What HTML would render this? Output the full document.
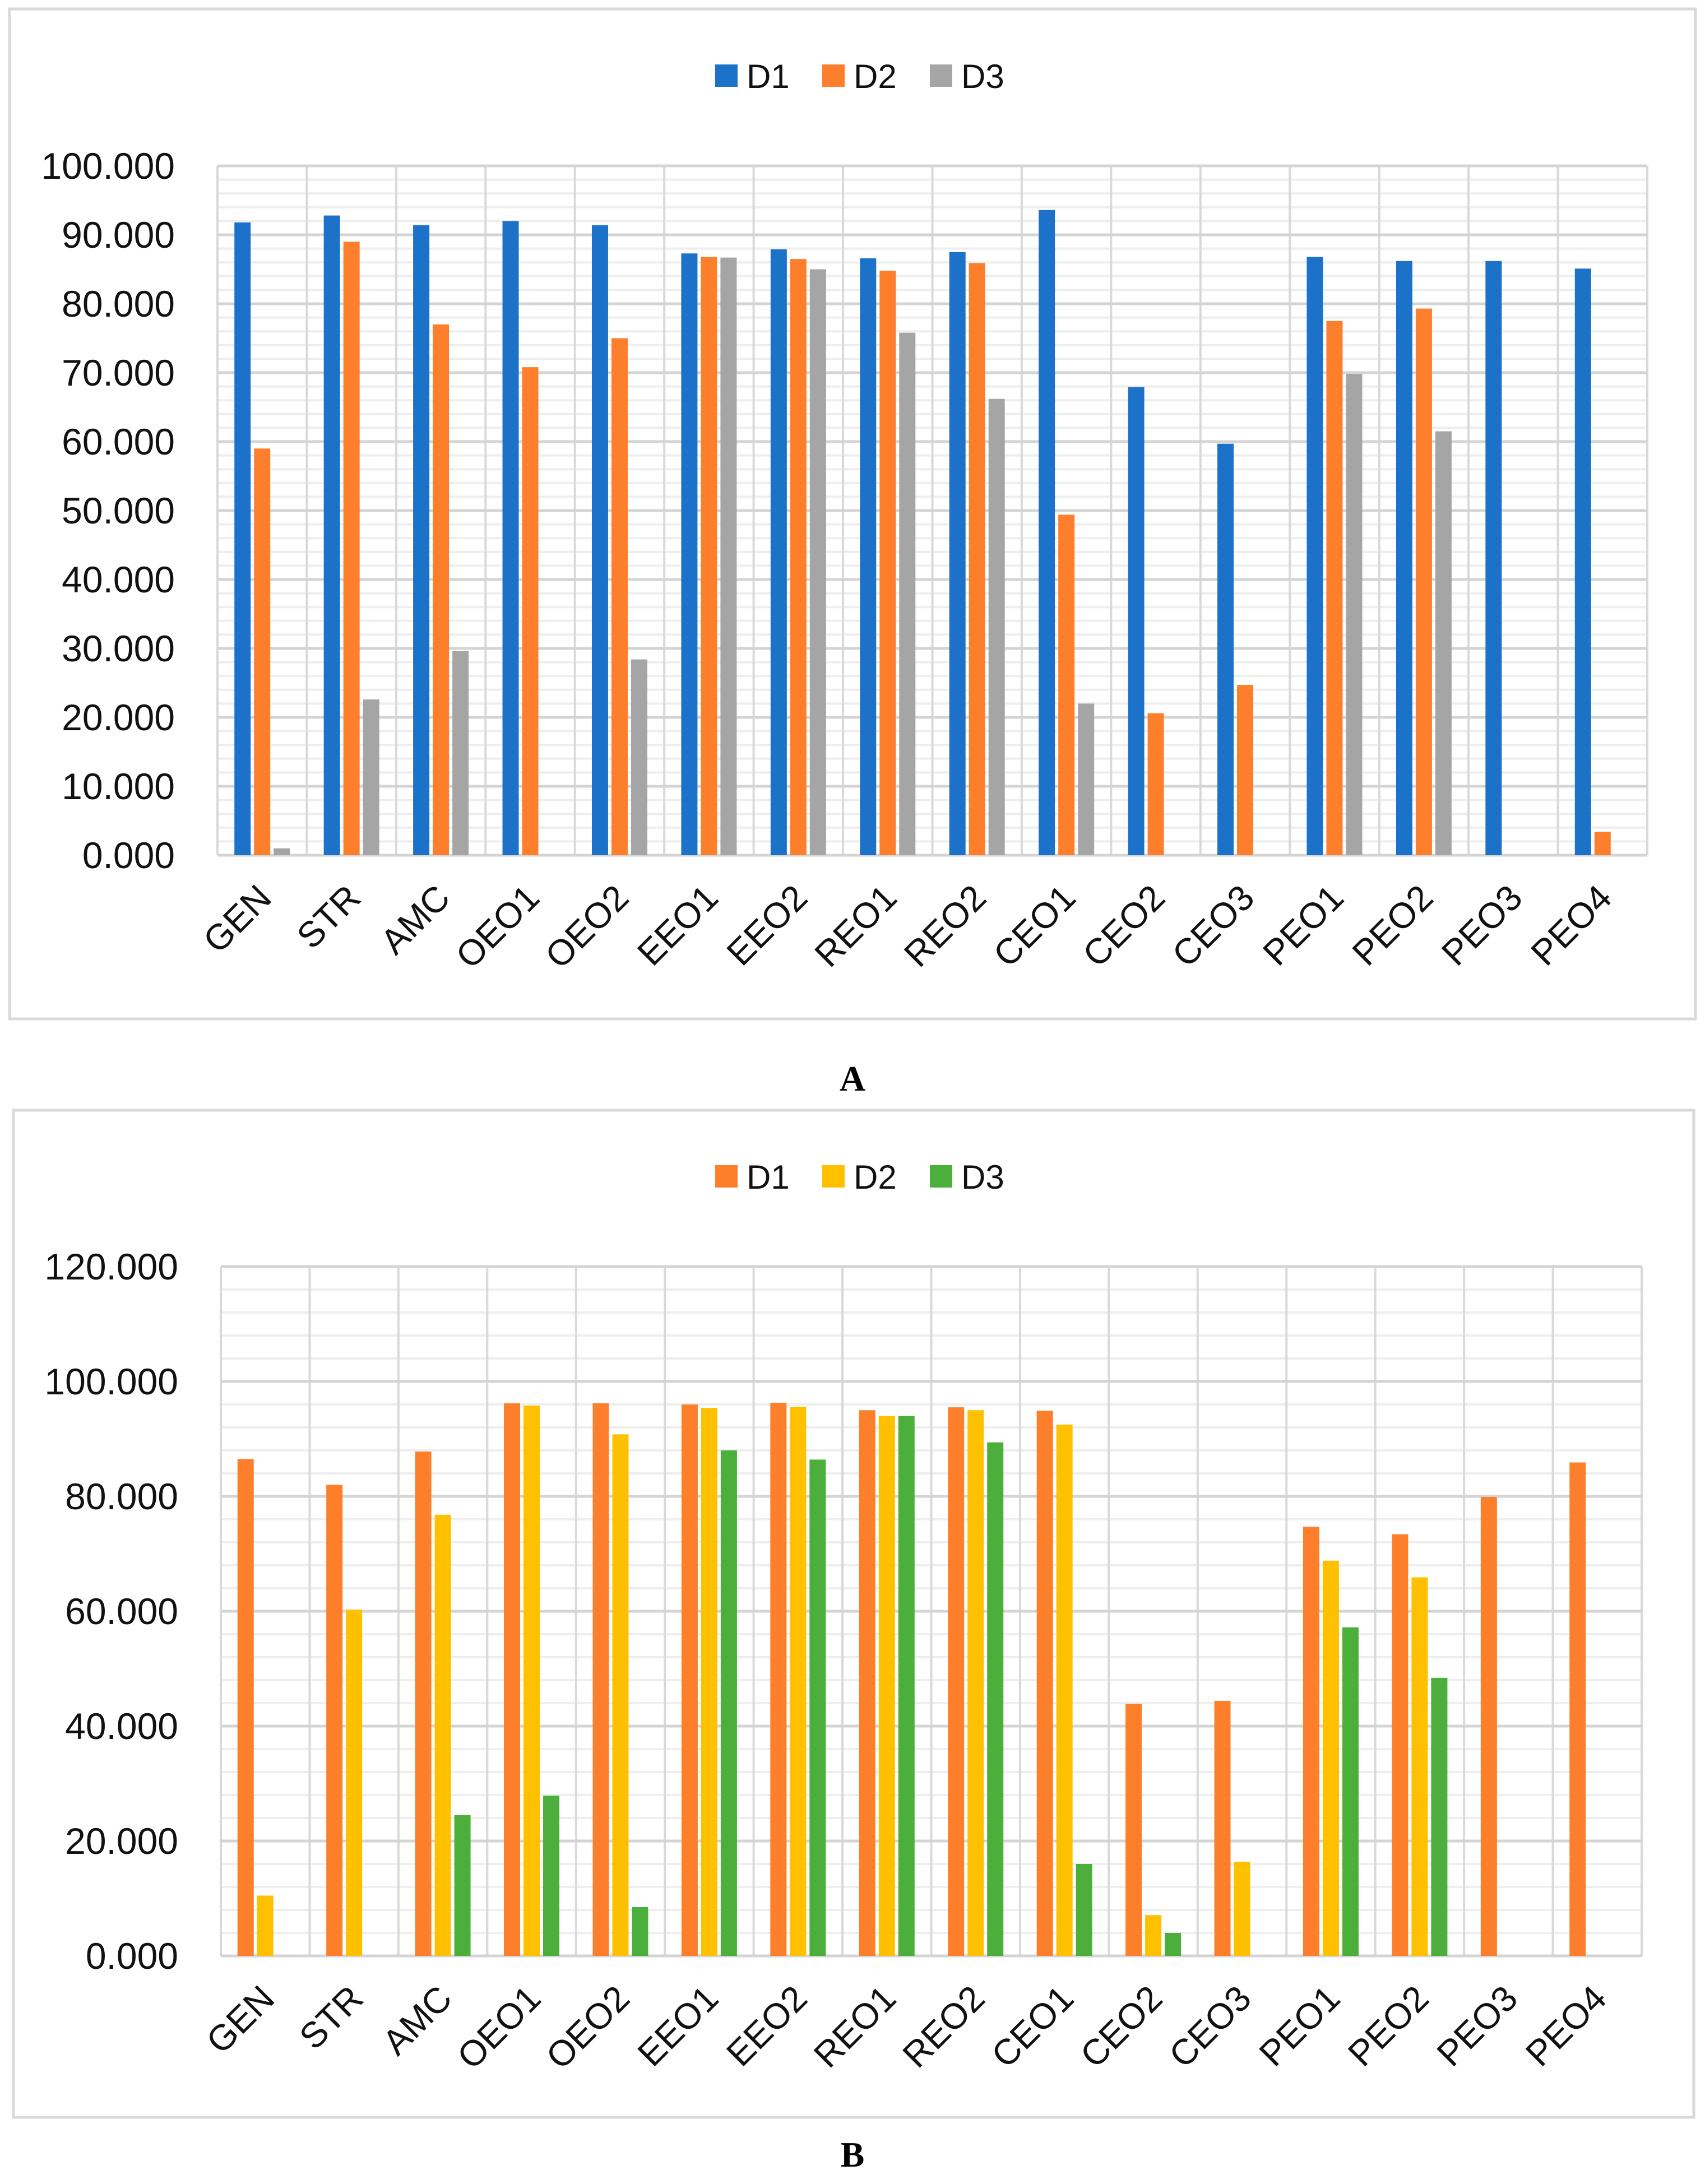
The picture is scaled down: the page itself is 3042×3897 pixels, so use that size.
<!DOCTYPE html>
<html><head><meta charset="utf-8"><style>
html,body{margin:0;padding:0;background:#fff}
svg{display:block}
</style></head><body>
<svg id="svg" width="3042" height="3897" viewBox="0 0 3042 3897" xmlns="http://www.w3.org/2000/svg">
<rect x="0" y="0" width="3042" height="3897" fill="#fff"/>
<rect x="17" y="16" width="3008" height="1802" fill="#fff" stroke="#d9d9d9" stroke-width="5"/>
<rect x="24" y="1981" width="2998" height="1797" fill="#fff" stroke="#d9d9d9" stroke-width="5"/>
<text x="1521" y="1946" font-family="Liberation Serif, serif" font-weight="bold" font-size="64" text-anchor="middle">A</text>
<text x="1521" y="3866" font-family="Liberation Serif, serif" font-weight="bold" font-size="64" text-anchor="middle">B</text>
</svg>
<script>
const categories = ["GEN","STR","AMC","OEO1","OEO2","EEO1","EEO2","REO1","REO2","CEO1","CEO2","CEO3","PEO1","PEO2","PEO3","PEO4"];
const seriesNames = ["D1","D2","D3"];
const aD1 = [91.8,92.8,91.4,92.0,91.4,87.3,87.9,86.6,87.5,93.6,67.9,59.7,86.8,86.2,86.2,85.1];
const aD2 = [59.0,89.0,77.0,70.8,75.0,86.8,86.5,84.8,85.9,49.4,20.6,24.7,77.5,79.3,0,3.4];
const aD3 = [1.0,22.6,29.6,0,28.4,86.7,85.0,75.8,66.2,22.0,0,0,69.8,61.5,0,0];
const aTicks = ["0.000","10.000","20.000","30.000","40.000","50.000","60.000","70.000","80.000","90.000","100.000"];
const bD1 = [86.5,82.0,87.8,96.2,96.2,96.0,96.3,95.0,95.5,94.9,43.9,44.4,74.7,73.4,79.9,85.9];
const bD2 = [10.5,60.3,76.8,95.8,90.8,95.4,95.6,94.0,95.0,92.5,7.1,16.4,68.8,65.9,0,0];
const bD3 = [0,0,24.5,27.9,8.5,88.0,86.4,94.0,89.4,16.0,4.0,0,57.2,48.4,0,0];
const bTicks = ["0.000","20.000","40.000","60.000","80.000","100.000","120.000"];

const svg = document.getElementById('svg');
const NS = 'http://www.w3.org/2000/svg';
function mk(tag, attrs){const e=document.createElementNS(NS,tag);for(const k in attrs)e.setAttribute(k,attrs[k]);svg.appendChild(e);return e;}

function drawChart(cfg){
  const {L,R,T,B,max,majorStep,minorStep,ticks,series,colors,legendY,legendX,prefix}=cfg;
  const y = v => B - (v/max)*(B-T);
  const cw = (R-L)/categories.length;
  const x = i => L + i*cw;
  for(let v=minorStep; v<max; v+=minorStep){
    if(Math.abs(v/majorStep-Math.round(v/majorStep))<1e-6) continue;
    const g=mk('line',{x1:L,x2:R,y1:y(v),y2:y(v),stroke:'#eeeeee','stroke-width':4});
    
    
  }
  for(let i=0;i<=categories.length;i++){
    const g=mk('line',{x1:x(i),x2:x(i),y1:T,y2:B,stroke:'#d9d9d9','stroke-width':4});
    
    
  }
  ticks.forEach((t,k)=>{
    const v=k*majorStep;
    const g=mk('line',{x1:L,x2:R,y1:y(v),y2:y(v),stroke:'#d4d4d4','stroke-width':5});
    
    
    const tx=mk('text',{x:L-76,y:y(v)+23,'text-anchor':'end','font-family':'Liberation Sans, sans-serif','font-size':66,fill:'#111'});
    tx.textContent=t;
    
    
  });
  const bw=29, gap=6, off=(cw-(3*bw+2*gap))/2;
  series.forEach((s,si)=>{
    s.forEach((v,i)=>{
      if(v<=0) return;
      const r=mk('rect',{x:x(i)+off+si*(bw+gap),y:y(v),width:bw,height:B-y(v),fill:colors[si]});
      
      
    });
  });
  categories.forEach((c,i)=>{
    const cx=x(i)+cw/2+20, cy=B+80;
    const t=mk('text',{x:cx,y:cy,'text-anchor':'end','font-family':'Liberation Sans, sans-serif','font-size':64,fill:'#111',transform:`rotate(-45 ${cx} ${cy})`});
    t.textContent=c;
    
    
  });
  seriesNames.forEach((n,si)=>{
    const lx=legendX[si];
    const r=mk('rect',{x:lx,y:legendY-20,width:40,height:40,fill:colors[si]});
    
    
    const t=mk('text',{x:lx+56,y:legendY+22,'font-family':'Liberation Sans, sans-serif','font-size':60,fill:'#111'});
    t.textContent=n;
    
    
  });
}

drawChart({prefix:'chart-a',L:388,R:2939,T:296,B:1526,max:100,majorStep:10,minorStep:2,ticks:aTicks,
  series:[aD1,aD2,aD3],colors:['#1c72c8','#fd7f2c','#a5a5a5'],legendY:135,legendX:[1276,1467,1659]});
drawChart({prefix:'chart-b',L:394,R:2929,T:2260,B:3490,max:120,majorStep:20,minorStep:4,ticks:bTicks,
  series:[bD1,bD2,bD3],colors:['#fd7f2c','#ffc000','#4caf3c'],legendY:2099,legendX:[1276,1467,1659]});
</script>
</body></html>
